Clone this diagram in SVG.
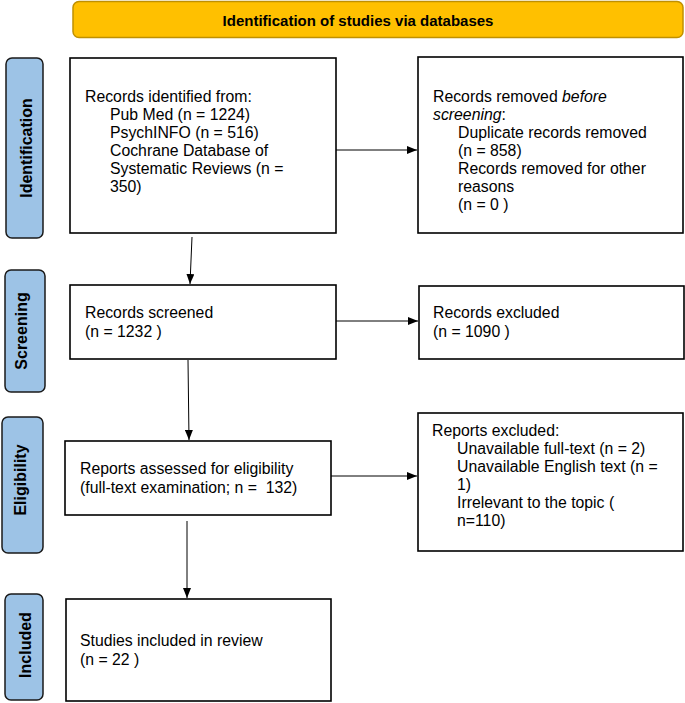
<svg xmlns="http://www.w3.org/2000/svg" width="685" height="703" viewBox="0 0 685 703">
<defs>
<marker id="ah" markerWidth="10" markerHeight="8" refX="10" refY="4" orient="auto" markerUnits="userSpaceOnUse">
<path d="M0,0 L10,4 L0,8 z" fill="#000"/>
</marker>
<style>
.box{fill:#fff;stroke:#000;stroke-width:1.6}
.side{fill:#9DC3E6;stroke:#1a1a1a;stroke-width:1.5}
.t{font-family:"Liberation Sans",Arial,sans-serif;font-size:15.8px;fill:#000}
.b{font-family:"Liberation Sans",Arial,sans-serif;font-size:16px;font-weight:bold;fill:#000}
.c{stroke:#000;stroke-width:1;fill:none;marker-end:url(#ah)}
</style>
</defs>
<rect width="685" height="703" fill="#fff"/>
<g id="banner">
<rect x="73" y="1.5" width="610" height="36" rx="6" fill="#FFC000" stroke="#C09000" stroke-width="1.5"/>
<text class="b" x="358" y="25.5" text-anchor="middle" style="font-size:15px">Identification of studies via databases</text>
</g>
<g id="side-identification">
<rect class="side" x="6" y="58" width="37" height="180" rx="6"/>
<text class="b" transform="translate(32,148) rotate(-90)" text-anchor="middle">Identification</text>
</g>
<g id="side-screening">
<rect class="side" x="5" y="270" width="40" height="122" rx="6"/>
<text class="b" transform="translate(27,331) rotate(-90)" text-anchor="middle">Screening</text>
</g>
<g id="side-eligibility">
<rect class="side" x="2" y="417" width="41" height="136" rx="6"/>
<text class="b" transform="translate(26,480) rotate(-90)" text-anchor="middle">Eligibility</text>
</g>
<g id="side-included">
<rect class="side" x="5" y="594" width="38" height="106" rx="6"/>
<text class="b" transform="translate(31,645) rotate(-90)" text-anchor="middle">Included</text>
</g>
<g id="records-identified">
<rect class="box" x="70" y="58" width="266" height="175"/>
<text class="t" x="85" y="102">Records identified from:</text>
<text class="t" x="110" y="120">Pub Med (n = 1224)</text>
<text class="t" x="110" y="138">PsychINFO (n = 516)</text>
<text class="t" x="110" y="156">Cochrane Database of</text>
<text class="t" x="110" y="174">Systematic Reviews (n =</text>
<text class="t" x="110" y="192">350)</text>
</g>
<g id="records-removed">
<rect class="box" x="418" y="57" width="265" height="176"/>
<text class="t" x="433" y="102">Records removed <tspan font-style="italic">before</tspan></text>
<text class="t" x="433" y="120"><tspan font-style="italic">screening</tspan>:</text>
<text class="t" x="458" y="138">Duplicate records removed</text>
<text class="t" x="458" y="156">(n = 858)</text>
<text class="t" x="458" y="174">Records removed for other</text>
<text class="t" x="458" y="192">reasons</text>
<text class="t" x="458" y="210">(n = 0 )</text>
</g>
<g id="records-screened">
<rect class="box" x="70" y="285" width="266" height="74"/>
<text class="t" x="85" y="318">Records screened</text>
<text class="t" x="85" y="337">(n = 1232 )</text>
</g>
<g id="records-excluded">
<rect class="box" x="419" y="286" width="265" height="73"/>
<text class="t" x="433" y="318">Records excluded</text>
<text class="t" x="433" y="337">(n = 1090 )</text>
</g>
<g id="reports-assessed">
<rect class="box" x="65" y="441" width="266" height="74"/>
<text class="t" x="80" y="474">Reports assessed for eligibility</text>
<text class="t" x="80" y="493" xml:space="preserve">(full-text examination; n =  132)</text>
</g>
<g id="reports-excluded">
<rect class="box" x="418" y="413" width="265" height="138"/>
<text class="t" x="432" y="436">Reports excluded:</text>
<text class="t" x="457" y="454">Unavailable full-text (n = 2)</text>
<text class="t" x="457" y="472">Unavailable English text (n =</text>
<text class="t" x="457" y="490">1)</text>
<text class="t" x="457" y="508">Irrelevant to the topic (</text>
<text class="t" x="457" y="526">n=110)</text>
</g>
<g id="studies-included">
<rect class="box" x="66" y="599" width="265" height="102"/>
<text class="t" x="80" y="646">Studies included in review</text>
<text class="t" x="80" y="665">(n = 22 )</text>
</g>
<g id="connectors">
<line class="c" x1="336" y1="150" x2="417" y2="150"/>
<line class="c" x1="192" y1="237" x2="190" y2="284"/>
<line class="c" x1="336" y1="321" x2="418" y2="321"/>
<line class="c" x1="188" y1="360" x2="189" y2="440"/>
<line class="c" x1="331" y1="476" x2="417" y2="476"/>
<line class="c" x1="187" y1="521" x2="187" y2="598"/>
</g>
</svg>
